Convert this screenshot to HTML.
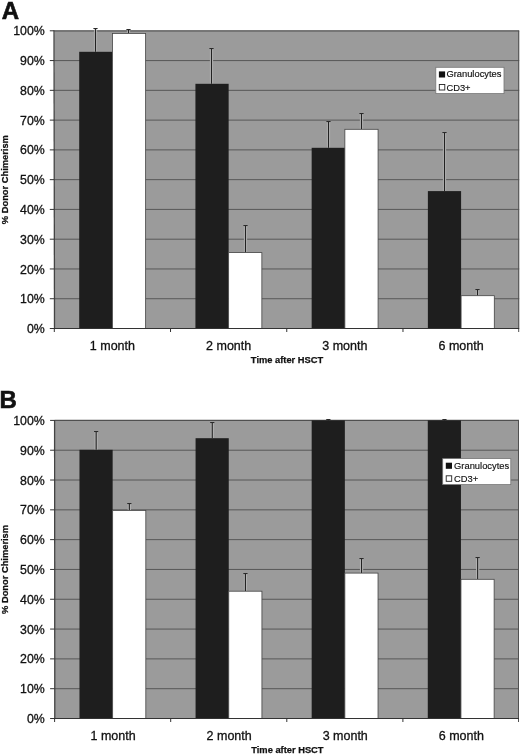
<!DOCTYPE html>
<html><head><meta charset="utf-8"><title>Figure</title>
<style>
html,body{margin:0;padding:0;background:#fff;}
body{width:520px;height:755px;overflow:hidden;}
svg{display:block;filter:grayscale(1);}
text{font-family:"Liberation Sans",Arial,Helvetica,sans-serif;fill:#111;}
.t12{font-size:12.5px;stroke:#111;stroke-width:0.3px;}
.y12{font-size:12.3px;stroke:#111;stroke-width:0.3px;}
.t9{font-size:9.35px;stroke:#111;stroke-width:0.15px;}
.b9{font-size:9.32px;font-weight:bold;stroke:#111;stroke-width:0.25px;}
.big{font-size:24px;font-weight:bold;stroke:#111;stroke-width:0.6px;}
</style></head><body>
<svg width="520" height="755" viewBox="0 0 520 755">
<rect width="520" height="755" fill="#fff"/>
<rect x="54.3" y="30.8" width="464.90" height="297.70" fill="#9b9b9b"/>
<line x1="54.3" x2="519.2" y1="60.57" y2="60.57" stroke="#505050" stroke-width="0.9"/>
<line x1="54.3" x2="519.2" y1="90.34" y2="90.34" stroke="#505050" stroke-width="0.9"/>
<line x1="54.3" x2="519.2" y1="120.11" y2="120.11" stroke="#505050" stroke-width="0.9"/>
<line x1="54.3" x2="519.2" y1="149.88" y2="149.88" stroke="#505050" stroke-width="0.9"/>
<line x1="54.3" x2="519.2" y1="179.65" y2="179.65" stroke="#505050" stroke-width="0.9"/>
<line x1="54.3" x2="519.2" y1="209.42" y2="209.42" stroke="#505050" stroke-width="0.9"/>
<line x1="54.3" x2="519.2" y1="239.19" y2="239.19" stroke="#505050" stroke-width="0.9"/>
<line x1="54.3" x2="519.2" y1="268.96" y2="268.96" stroke="#505050" stroke-width="0.9"/>
<line x1="54.3" x2="519.2" y1="298.73" y2="298.73" stroke="#505050" stroke-width="0.9"/>
<line x1="54.3" x2="519.2" y1="30.8" y2="30.8" stroke="#505050" stroke-width="1.2"/>
<line x1="518.7" x2="518.7" y1="30.8" y2="332.0" stroke="#505050" stroke-width="1"/>
<line x1="95.50" x2="95.50" y1="29.50" y2="51.80" stroke="#b2b2b2" stroke-width="3.2"/>
<line x1="95.50" x2="95.50" y1="28.00" y2="51.80" stroke="#222" stroke-width="1.1"/>
<line x1="93.40" x2="97.60" y1="28.50" y2="28.50" stroke="#2a2a2a" stroke-width="1"/>
<line x1="128.50" x2="128.50" y1="30.50" y2="33.40" stroke="#b2b2b2" stroke-width="3.2"/>
<line x1="128.50" x2="128.50" y1="29.00" y2="33.40" stroke="#222" stroke-width="1.1"/>
<line x1="126.40" x2="130.60" y1="29.50" y2="29.50" stroke="#2a2a2a" stroke-width="1"/>
<rect x="79.21" y="51.80" width="33.21" height="276.70" fill="#1e1e1e"/>
<rect x="112.41" y="33.40" width="33.21" height="295.10" fill="#fff" stroke="#444" stroke-width="0.8"/>
<line x1="211.50" x2="211.50" y1="49.50" y2="83.80" stroke="#b2b2b2" stroke-width="3.2"/>
<line x1="211.50" x2="211.50" y1="48.00" y2="83.80" stroke="#222" stroke-width="1.1"/>
<line x1="209.40" x2="213.60" y1="48.50" y2="48.50" stroke="#2a2a2a" stroke-width="1"/>
<line x1="245.50" x2="245.50" y1="226.50" y2="252.60" stroke="#b2b2b2" stroke-width="3.2"/>
<line x1="245.50" x2="245.50" y1="225.00" y2="252.60" stroke="#222" stroke-width="1.1"/>
<line x1="243.40" x2="247.60" y1="225.50" y2="225.50" stroke="#2a2a2a" stroke-width="1"/>
<rect x="195.43" y="83.80" width="33.21" height="244.70" fill="#1e1e1e"/>
<rect x="228.64" y="252.60" width="33.21" height="75.90" fill="#fff" stroke="#444" stroke-width="0.8"/>
<line x1="328.50" x2="328.50" y1="122.50" y2="147.80" stroke="#b2b2b2" stroke-width="3.2"/>
<line x1="328.50" x2="328.50" y1="121.00" y2="147.80" stroke="#222" stroke-width="1.1"/>
<line x1="326.40" x2="330.60" y1="121.50" y2="121.50" stroke="#2a2a2a" stroke-width="1"/>
<line x1="361.50" x2="361.50" y1="114.50" y2="129.30" stroke="#b2b2b2" stroke-width="3.2"/>
<line x1="361.50" x2="361.50" y1="113.00" y2="129.30" stroke="#222" stroke-width="1.1"/>
<line x1="359.40" x2="363.60" y1="113.50" y2="113.50" stroke="#2a2a2a" stroke-width="1"/>
<rect x="311.66" y="147.80" width="33.21" height="180.70" fill="#1e1e1e"/>
<rect x="344.86" y="129.30" width="33.21" height="199.20" fill="#fff" stroke="#444" stroke-width="0.8"/>
<line x1="444.50" x2="444.50" y1="133.50" y2="191.10" stroke="#b2b2b2" stroke-width="3.2"/>
<line x1="444.50" x2="444.50" y1="132.00" y2="191.10" stroke="#222" stroke-width="1.1"/>
<line x1="442.40" x2="446.60" y1="132.50" y2="132.50" stroke="#2a2a2a" stroke-width="1"/>
<line x1="477.50" x2="477.50" y1="290.50" y2="295.70" stroke="#b2b2b2" stroke-width="3.2"/>
<line x1="477.50" x2="477.50" y1="289.00" y2="295.70" stroke="#222" stroke-width="1.1"/>
<line x1="475.40" x2="479.60" y1="289.50" y2="289.50" stroke="#2a2a2a" stroke-width="1"/>
<rect x="427.88" y="191.10" width="33.21" height="137.40" fill="#1e1e1e"/>
<rect x="461.09" y="295.70" width="33.21" height="32.80" fill="#fff" stroke="#444" stroke-width="0.8"/>
<line x1="54.00" x2="54.50" y1="30.3" y2="329.0" stroke="#444" stroke-width="1.3"/>
<line x1="53.8" x2="519.2" y1="328.5" y2="328.5" stroke="#333" stroke-width="1.2"/>
<line x1="49.80" x2="54.30" y1="30.80" y2="30.80" stroke="#333" stroke-width="1"/>
<text x="44.7" y="35.40" text-anchor="end" class="y12">100%</text>
<line x1="49.80" x2="54.30" y1="60.57" y2="60.57" stroke="#333" stroke-width="1"/>
<text x="44.7" y="65.17" text-anchor="end" class="y12">90%</text>
<line x1="49.80" x2="54.30" y1="90.34" y2="90.34" stroke="#333" stroke-width="1"/>
<text x="44.7" y="94.94" text-anchor="end" class="y12">80%</text>
<line x1="49.80" x2="54.30" y1="120.11" y2="120.11" stroke="#333" stroke-width="1"/>
<text x="44.7" y="124.71" text-anchor="end" class="y12">70%</text>
<line x1="49.80" x2="54.30" y1="149.88" y2="149.88" stroke="#333" stroke-width="1"/>
<text x="44.7" y="154.48" text-anchor="end" class="y12">60%</text>
<line x1="49.80" x2="54.30" y1="179.65" y2="179.65" stroke="#333" stroke-width="1"/>
<text x="44.7" y="184.25" text-anchor="end" class="y12">50%</text>
<line x1="49.80" x2="54.30" y1="209.42" y2="209.42" stroke="#333" stroke-width="1"/>
<text x="44.7" y="214.02" text-anchor="end" class="y12">40%</text>
<line x1="49.80" x2="54.30" y1="239.19" y2="239.19" stroke="#333" stroke-width="1"/>
<text x="44.7" y="243.79" text-anchor="end" class="y12">30%</text>
<line x1="49.80" x2="54.30" y1="268.96" y2="268.96" stroke="#333" stroke-width="1"/>
<text x="44.7" y="273.56" text-anchor="end" class="y12">20%</text>
<line x1="49.80" x2="54.30" y1="298.73" y2="298.73" stroke="#333" stroke-width="1"/>
<text x="44.7" y="303.33" text-anchor="end" class="y12">10%</text>
<line x1="49.80" x2="54.30" y1="328.50" y2="328.50" stroke="#333" stroke-width="1"/>
<text x="44.7" y="333.10" text-anchor="end" class="y12">0%</text>
<line x1="54.30" x2="54.30" y1="328.5" y2="332.0" stroke="#333" stroke-width="1"/>
<line x1="170.53" x2="170.53" y1="328.5" y2="332.0" stroke="#333" stroke-width="1"/>
<line x1="286.75" x2="286.75" y1="328.5" y2="332.0" stroke="#333" stroke-width="1"/>
<line x1="402.98" x2="402.98" y1="328.5" y2="332.0" stroke="#333" stroke-width="1"/>
<text x="112.41" y="350.40" text-anchor="middle" class="t12">1 month</text>
<text x="228.64" y="350.40" text-anchor="middle" class="t12">2 month</text>
<text x="344.86" y="350.40" text-anchor="middle" class="t12">3 month</text>
<text x="461.09" y="350.40" text-anchor="middle" class="t12">6 month</text>
<text x="287" y="363.30" text-anchor="middle" class="b9">Time after HSCT</text>
<text transform="translate(7.8,179.65) rotate(-90)" text-anchor="middle" class="b9">% Donor Chimerism</text>
<rect x="435.8" y="67.3" width="68.2" height="26.3" fill="#fff" stroke="#777" stroke-width="0.8"/>
<rect x="438.90" y="71.40" width="6.2" height="6.1" fill="#111"/>
<rect x="439.30" y="84.50" width="5.5" height="5.5" fill="#fff" stroke="#222" stroke-width="0.9"/>
<text x="446.40" y="77.30" class="t9">Granulocytes</text>
<text x="446.40" y="90.50" class="t9">CD3+</text>
<text x="1.8" y="18.5" class="big">A</text>
<rect x="54.6" y="420.4" width="464.40" height="298.10" fill="#9b9b9b"/>
<line x1="54.6" x2="519.0" y1="450.21" y2="450.21" stroke="#505050" stroke-width="0.9"/>
<line x1="54.6" x2="519.0" y1="480.02" y2="480.02" stroke="#505050" stroke-width="0.9"/>
<line x1="54.6" x2="519.0" y1="509.83" y2="509.83" stroke="#505050" stroke-width="0.9"/>
<line x1="54.6" x2="519.0" y1="539.64" y2="539.64" stroke="#505050" stroke-width="0.9"/>
<line x1="54.6" x2="519.0" y1="569.45" y2="569.45" stroke="#505050" stroke-width="0.9"/>
<line x1="54.6" x2="519.0" y1="599.26" y2="599.26" stroke="#505050" stroke-width="0.9"/>
<line x1="54.6" x2="519.0" y1="629.07" y2="629.07" stroke="#505050" stroke-width="0.9"/>
<line x1="54.6" x2="519.0" y1="658.88" y2="658.88" stroke="#505050" stroke-width="0.9"/>
<line x1="54.6" x2="519.0" y1="688.69" y2="688.69" stroke="#505050" stroke-width="0.9"/>
<line x1="54.6" x2="519.0" y1="420.4" y2="420.4" stroke="#505050" stroke-width="1.2"/>
<line x1="518.5" x2="518.5" y1="420.4" y2="722.0" stroke="#505050" stroke-width="1"/>
<line x1="96.16" x2="96.16" y1="432.50" y2="449.80" stroke="#b2b2b2" stroke-width="3.2"/>
<line x1="96.16" x2="96.16" y1="431.00" y2="449.80" stroke="#222" stroke-width="1.1"/>
<line x1="94.06" x2="98.26" y1="431.50" y2="431.50" stroke="#2a2a2a" stroke-width="1"/>
<line x1="129.34" x2="129.34" y1="504.50" y2="510.40" stroke="#b2b2b2" stroke-width="3.2"/>
<line x1="129.34" x2="129.34" y1="503.00" y2="510.40" stroke="#222" stroke-width="1.1"/>
<line x1="127.24" x2="131.44" y1="503.50" y2="503.50" stroke="#2a2a2a" stroke-width="1"/>
<rect x="79.48" y="449.80" width="33.17" height="268.70" fill="#1e1e1e"/>
<rect x="112.65" y="510.40" width="33.17" height="208.10" fill="#fff" stroke="#444" stroke-width="0.8"/>
<line x1="212.26" x2="212.26" y1="423.50" y2="438.20" stroke="#b2b2b2" stroke-width="3.2"/>
<line x1="212.26" x2="212.26" y1="422.00" y2="438.20" stroke="#222" stroke-width="1.1"/>
<line x1="210.16" x2="214.36" y1="422.50" y2="422.50" stroke="#2a2a2a" stroke-width="1"/>
<line x1="245.44" x2="245.44" y1="574.50" y2="591.20" stroke="#b2b2b2" stroke-width="3.2"/>
<line x1="245.44" x2="245.44" y1="573.00" y2="591.20" stroke="#222" stroke-width="1.1"/>
<line x1="243.34" x2="247.54" y1="573.50" y2="573.50" stroke="#2a2a2a" stroke-width="1"/>
<rect x="195.58" y="438.20" width="33.17" height="280.30" fill="#1e1e1e"/>
<rect x="228.75" y="591.20" width="33.17" height="127.30" fill="#fff" stroke="#444" stroke-width="0.8"/>
<line x1="328.36" x2="328.36" y1="419.00" y2="420.40" stroke="#222" stroke-width="1.1"/>
<line x1="326.26" x2="330.46" y1="419.50" y2="419.50" stroke="#2a2a2a" stroke-width="1"/>
<line x1="361.54" x2="361.54" y1="559.50" y2="573.10" stroke="#b2b2b2" stroke-width="3.2"/>
<line x1="361.54" x2="361.54" y1="558.00" y2="573.10" stroke="#222" stroke-width="1.1"/>
<line x1="359.44" x2="363.64" y1="558.50" y2="558.50" stroke="#2a2a2a" stroke-width="1"/>
<rect x="311.68" y="420.40" width="33.17" height="298.10" fill="#1e1e1e"/>
<rect x="344.85" y="573.10" width="33.17" height="145.40" fill="#fff" stroke="#444" stroke-width="0.8"/>
<line x1="444.46" x2="444.46" y1="419.00" y2="420.40" stroke="#222" stroke-width="1.1"/>
<line x1="442.36" x2="446.56" y1="419.50" y2="419.50" stroke="#2a2a2a" stroke-width="1"/>
<line x1="477.64" x2="477.64" y1="558.50" y2="579.30" stroke="#b2b2b2" stroke-width="3.2"/>
<line x1="477.64" x2="477.64" y1="557.00" y2="579.30" stroke="#222" stroke-width="1.1"/>
<line x1="475.54" x2="479.74" y1="557.50" y2="557.50" stroke="#2a2a2a" stroke-width="1"/>
<rect x="427.78" y="420.40" width="33.17" height="298.10" fill="#1e1e1e"/>
<rect x="460.95" y="579.30" width="33.17" height="139.20" fill="#fff" stroke="#444" stroke-width="0.8"/>
<line x1="54.60" x2="54.80" y1="419.9" y2="719.0" stroke="#444" stroke-width="1.3"/>
<line x1="54.1" x2="519.0" y1="718.5" y2="718.5" stroke="#333" stroke-width="1.2"/>
<line x1="50.10" x2="54.60" y1="420.40" y2="420.40" stroke="#333" stroke-width="1"/>
<text x="44.7" y="425.00" text-anchor="end" class="y12">100%</text>
<line x1="50.10" x2="54.60" y1="450.21" y2="450.21" stroke="#333" stroke-width="1"/>
<text x="44.7" y="454.81" text-anchor="end" class="y12">90%</text>
<line x1="50.10" x2="54.60" y1="480.02" y2="480.02" stroke="#333" stroke-width="1"/>
<text x="44.7" y="484.62" text-anchor="end" class="y12">80%</text>
<line x1="50.10" x2="54.60" y1="509.83" y2="509.83" stroke="#333" stroke-width="1"/>
<text x="44.7" y="514.43" text-anchor="end" class="y12">70%</text>
<line x1="50.10" x2="54.60" y1="539.64" y2="539.64" stroke="#333" stroke-width="1"/>
<text x="44.7" y="544.24" text-anchor="end" class="y12">60%</text>
<line x1="50.10" x2="54.60" y1="569.45" y2="569.45" stroke="#333" stroke-width="1"/>
<text x="44.7" y="574.05" text-anchor="end" class="y12">50%</text>
<line x1="50.10" x2="54.60" y1="599.26" y2="599.26" stroke="#333" stroke-width="1"/>
<text x="44.7" y="603.86" text-anchor="end" class="y12">40%</text>
<line x1="50.10" x2="54.60" y1="629.07" y2="629.07" stroke="#333" stroke-width="1"/>
<text x="44.7" y="633.67" text-anchor="end" class="y12">30%</text>
<line x1="50.10" x2="54.60" y1="658.88" y2="658.88" stroke="#333" stroke-width="1"/>
<text x="44.7" y="663.48" text-anchor="end" class="y12">20%</text>
<line x1="50.10" x2="54.60" y1="688.69" y2="688.69" stroke="#333" stroke-width="1"/>
<text x="44.7" y="693.29" text-anchor="end" class="y12">10%</text>
<line x1="50.10" x2="54.60" y1="718.50" y2="718.50" stroke="#333" stroke-width="1"/>
<text x="44.7" y="723.10" text-anchor="end" class="y12">0%</text>
<line x1="54.60" x2="54.60" y1="718.5" y2="722.0" stroke="#333" stroke-width="1"/>
<line x1="170.70" x2="170.70" y1="718.5" y2="722.0" stroke="#333" stroke-width="1"/>
<line x1="286.80" x2="286.80" y1="718.5" y2="722.0" stroke="#333" stroke-width="1"/>
<line x1="402.90" x2="402.90" y1="718.5" y2="722.0" stroke="#333" stroke-width="1"/>
<text x="113.05" y="740.40" text-anchor="middle" class="t12">1 month</text>
<text x="229.15" y="740.40" text-anchor="middle" class="t12">2 month</text>
<text x="345.25" y="740.40" text-anchor="middle" class="t12">3 month</text>
<text x="461.35" y="740.40" text-anchor="middle" class="t12">6 month</text>
<text x="287.4" y="753.30" text-anchor="middle" class="b9">Time after HSCT</text>
<text transform="translate(7.8,569.45) rotate(-90)" text-anchor="middle" class="b9">% Donor Chimerism</text>
<rect x="442.7" y="458.6" width="68.1" height="26" fill="#fff" stroke="#777" stroke-width="0.8"/>
<rect x="445.80" y="462.70" width="6.2" height="6.1" fill="#111"/>
<rect x="446.20" y="475.80" width="5.5" height="5.5" fill="#fff" stroke="#222" stroke-width="0.9"/>
<text x="454.10" y="468.60" class="t9">Granulocytes</text>
<text x="454.10" y="481.80" class="t9">CD3+</text>
<text x="-0.5" y="407.7" class="big">B</text>
</svg>
</body></html>
